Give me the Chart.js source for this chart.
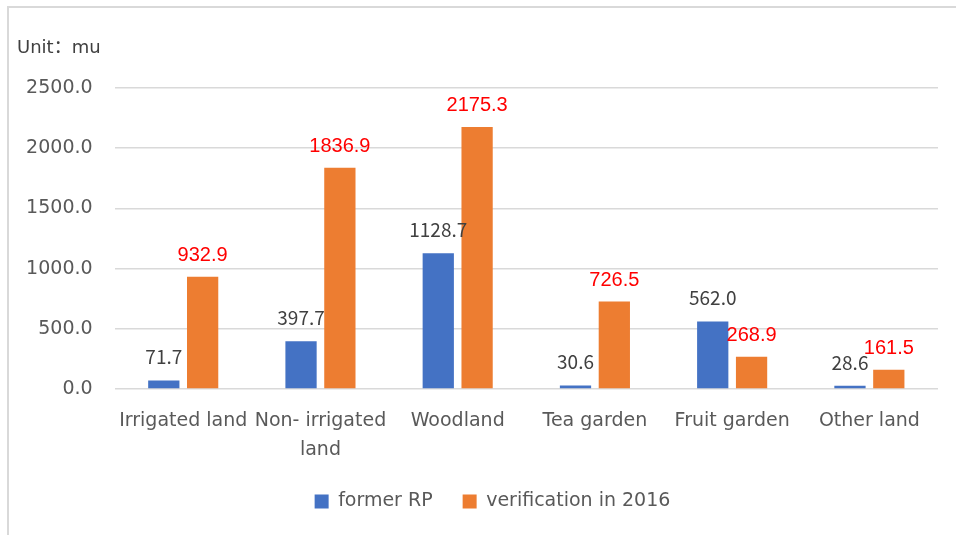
<!DOCTYPE html>
<html>
<head>
<meta charset="utf-8">
<script src="https://cdn.jsdelivr.net/npm/chart.js@4/dist/chart.umd.min.js"></script>
<style>
  html, body { margin: 0; padding: 0; background: #fff; }
  #wrap { position: relative; width: 956px; height: 535px; overflow: hidden; }
  #frame { position: absolute; left: 7px; top: 6px; right: -10px; bottom: -10px; border-left: 2px solid #D9D9D9; border-top: 2px solid #D9D9D9; }
  canvas { position: absolute; left: 0; top: 0; }
</style>
</head>
<body>
<div id="wrap">
  <div id="frame"></div>
  <canvas id="c" width="956" height="535"></canvas>
</div>
<script>
const categories = ['Irrigated land', ['Non- irrigated', 'land'], 'Woodland', 'Tea garden', 'Fruit garden', 'Other land'];
const formerRP = [71.7, 397.7, 1128.7, 30.6, 562.0, 28.6];
const verification2016 = [932.9, 1836.9, 2175.3, 726.5, 268.9, 161.5];
const seriesNames = ['former RP', 'verification in 2016'];
const yTicks = [0, 500, 1000, 1500, 2000, 2500];
const unitLabel = 'Unit：mu';

const AXIS_FONT = '"DejaVu Sans", "Noto Sans CJK SC", sans-serif';
const LABEL_FONT = '"Noto Sans CJK SC", "Noto Sans", sans-serif';

const labelPlugin = {
  id: 'valueLabels',
  afterLayout(chart) {
    // shift legend block slightly right, as in the original layout
    if (chart.legend) { chart.legend.left += 18.5; chart.legend.right += 18.5; }
  },
  afterDatasetsDraw(chart) {
    const ctx = chart.ctx;
    ctx.save();
    chart.data.datasets.forEach((ds, i) => {
      const meta = chart.getDatasetMeta(i);
      meta.data.forEach((bar, j) => {
        const v = ds.data[j];
        if (i === 0) {
          ctx.font = '19px ' + LABEL_FONT;
          ctx.fillStyle = '#404040';
        } else {
          ctx.font = '20px "Liberation Sans", Arial, sans-serif';
          ctx.fillStyle = '#FF0000';
        }
        ctx.textAlign = 'center';
        ctx.textBaseline = 'alphabetic';
        ctx.fillText(v.toFixed(1), bar.x, bar.y - 16);
      });
    });
    ctx.font = '18px ' + AXIS_FONT;
    ctx.fillStyle = '#404040';
    ctx.textAlign = 'left';
    ctx.textBaseline = 'middle';
    ctx.fillText(unitLabel, 17, 48);
    ctx.restore();
  }
};

new Chart(document.getElementById('c'), {
  type: 'bar',
  data: {
    labels: categories,
    datasets: [
      { label: seriesNames[0], data: formerRP, backgroundColor: '#4472C4', borderWidth: 0 },
      { label: seriesNames[1], data: verification2016, backgroundColor: '#ED7D31', borderWidth: 0 }
    ]
  },
  options: {
    responsive: false,
    animation: false,
    devicePixelRatio: 1,
    categoryPercentage: 0.566,
    barPercentage: 0.805,
    layout: { padding: { left: 10, right: 18, top: 88, bottom: 14 } },
    plugins: {
      tooltip: { enabled: false },
      title: { display: false },
      legend: {
        position: 'bottom',
        labels: {
          boxWidth: 14, boxHeight: 14, padding: 30,
          color: '#595959',
          font: { family: AXIS_FONT, size: 19 }
        }
      }
    },
    scales: {
      x: {
        grid: { display: false },
        border: { display: false },
        ticks: {
          color: '#595959',
          font: { family: AXIS_FONT, size: 19, lineHeight: 1.55 },
          padding: 9, maxRotation: 0, minRotation: 0, autoSkip: false
        },
        afterFit(s) { s.height = 72.9; }
      },
      y: {
        min: 0, max: 2500,
        afterBuildTicks(s) { s.ticks = yTicks.map(v => ({ value: v })); },
        grid: { color: '#D9D9D9', lineWidth: 1.5, drawTicks: false },
        border: { display: false },
        ticks: {
          color: '#595959',
          font: { family: AXIS_FONT, size: 19 },
          padding: 22,
          callback: v => Number(v).toFixed(1)
        },
        afterFit(s) { s.width = 104.6; }
      }
    }
  },
  plugins: [labelPlugin]
});
</script>
</body>
</html>
